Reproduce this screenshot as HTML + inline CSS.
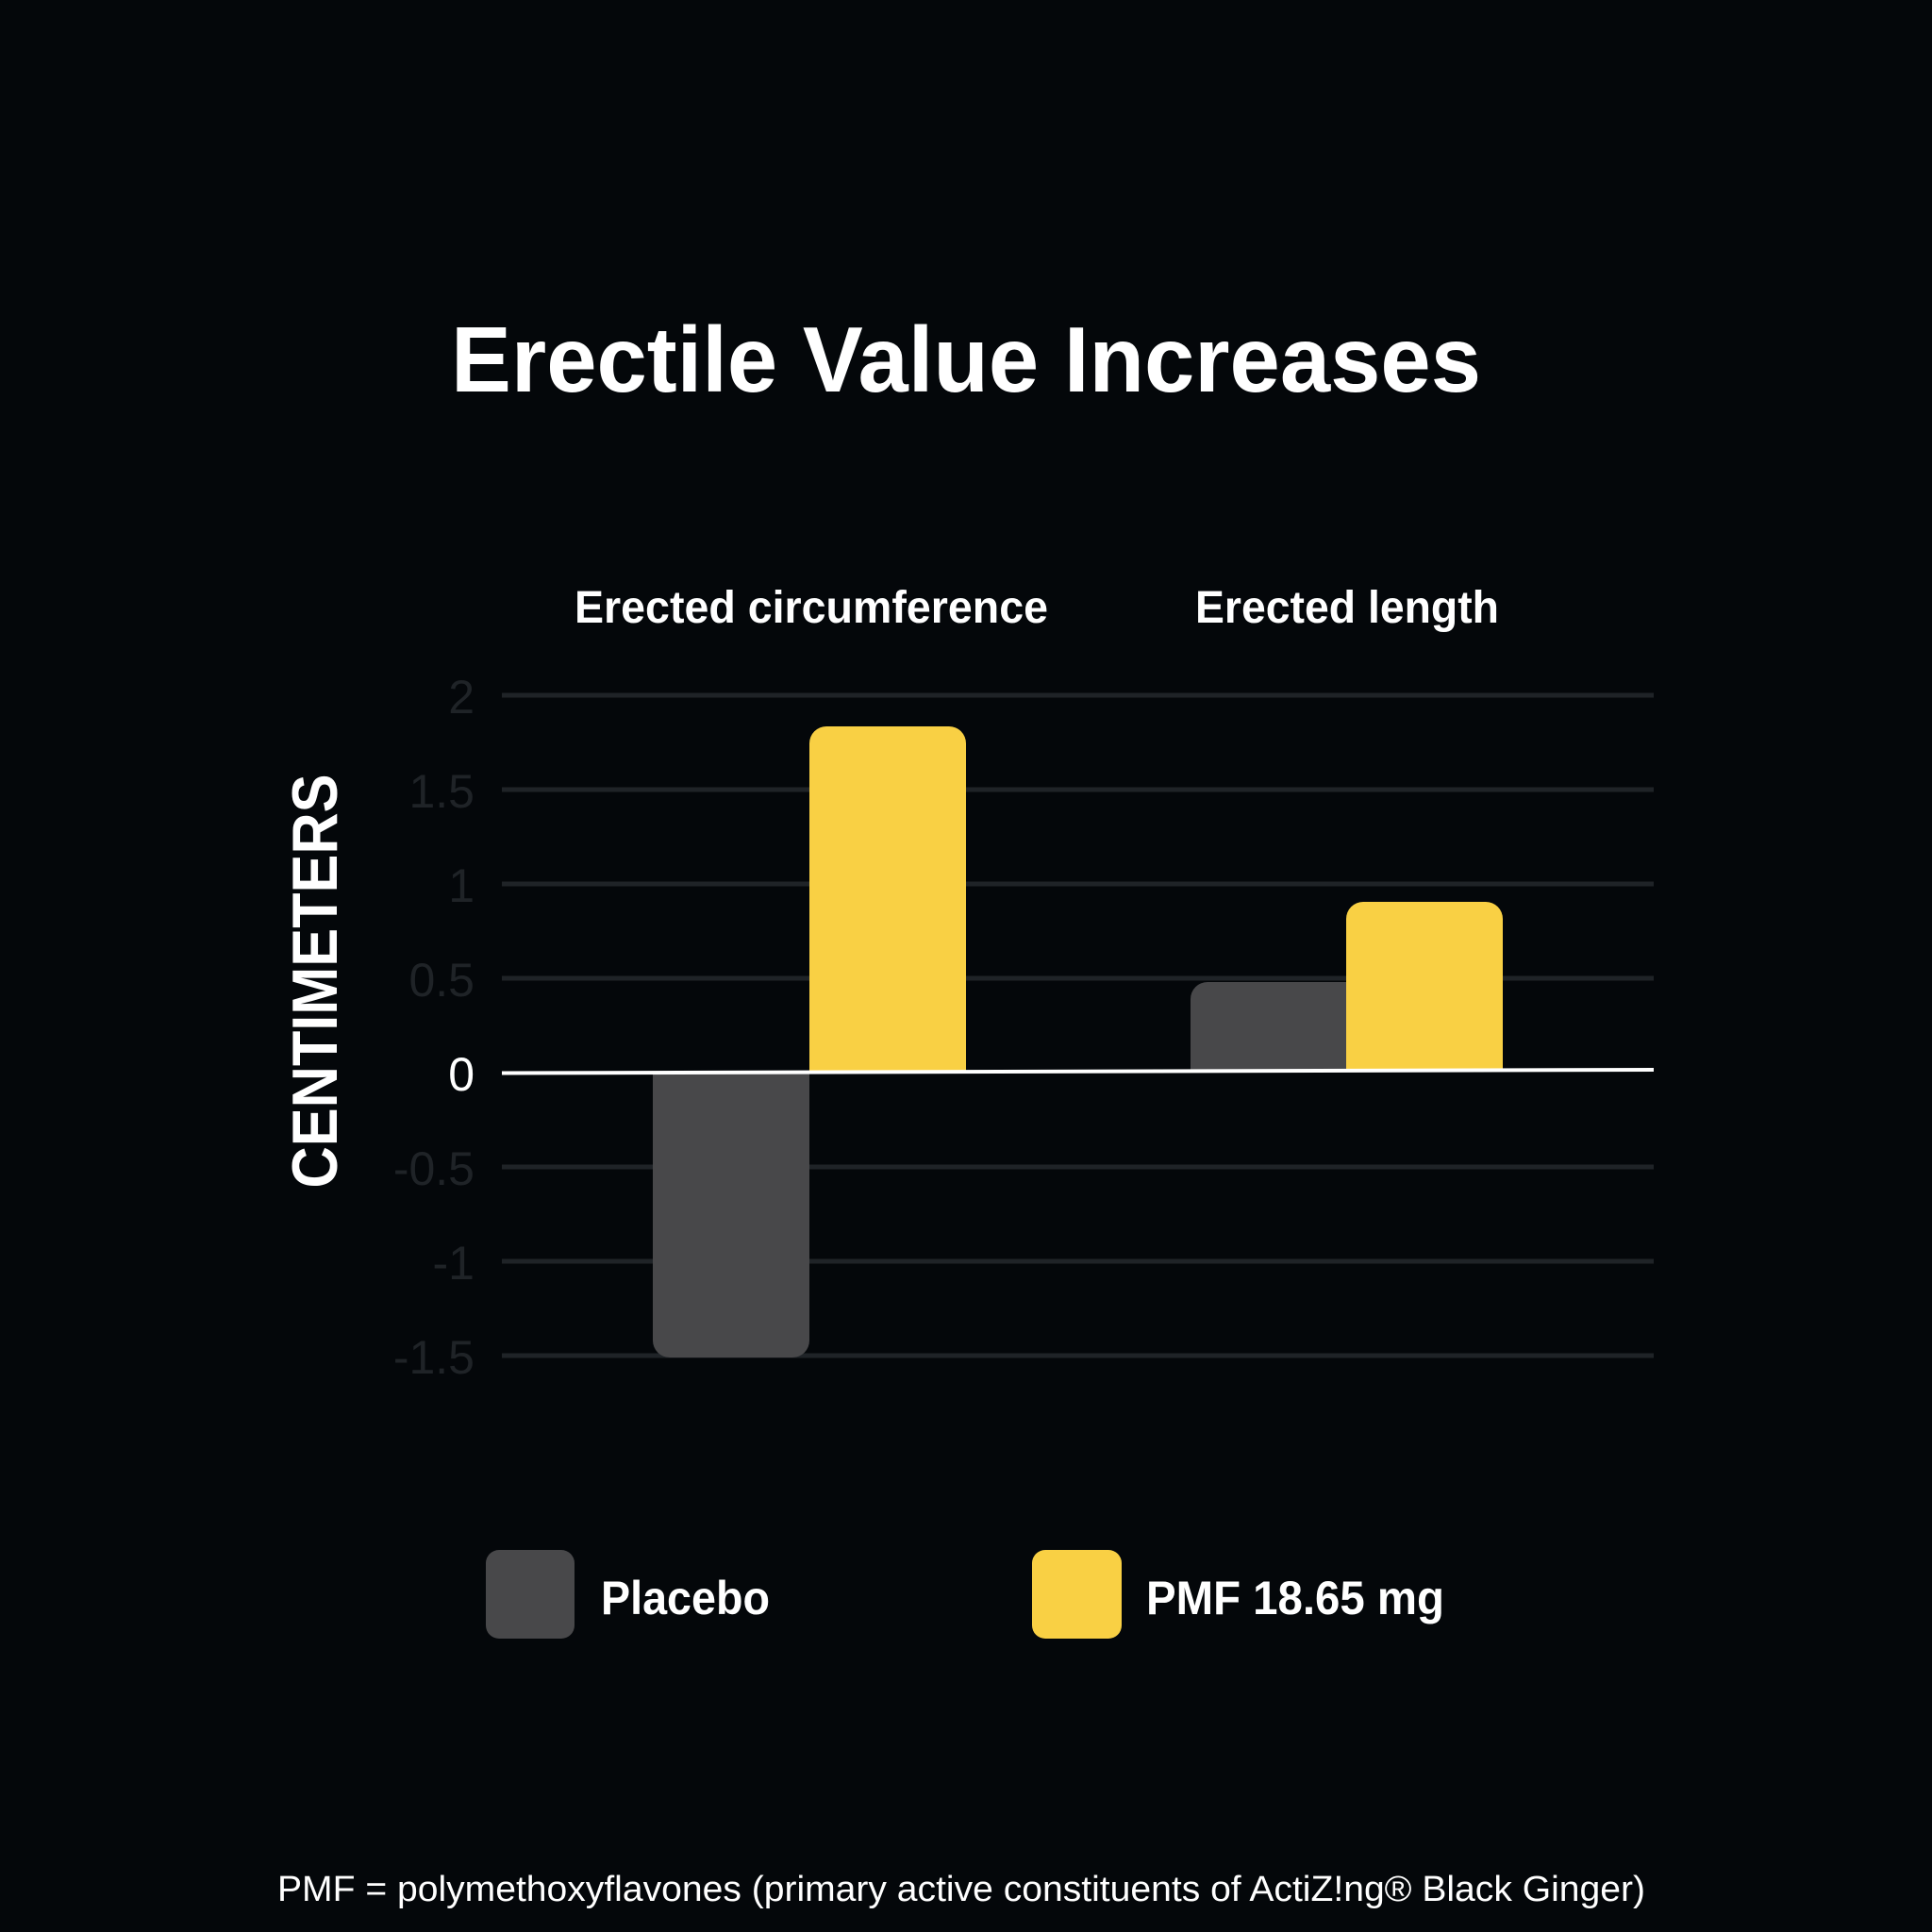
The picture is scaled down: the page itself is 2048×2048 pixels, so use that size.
<!DOCTYPE html>
<html><head><meta charset="utf-8"><style>
html,body{margin:0;padding:0;background:#04070a;}
svg{display:block}
text{font-family:"Liberation Sans",sans-serif;}
</style></head><body>
<svg width="2048" height="2048" viewBox="0 0 2048 2048" xmlns="http://www.w3.org/2000/svg">
<rect width="2048" height="2048" fill="#04070a"/>
<text x="1024" y="415" text-anchor="middle" font-size="98" font-weight="bold" fill="#fff" textLength="1092" lengthAdjust="spacingAndGlyphs">Erectile Value Increases</text>
<text x="609" y="660" font-size="48" font-weight="bold" fill="#fff" textLength="502" lengthAdjust="spacingAndGlyphs">Erected circumference</text>
<text x="1267" y="660" font-size="48" font-weight="bold" fill="#fff" textLength="322" lengthAdjust="spacingAndGlyphs">Erected length</text>
<g stroke="#1f2327" stroke-width="5">
<line x1="532" y1="737" x2="1753" y2="737"/>
<line x1="532" y1="837" x2="1753" y2="837"/>
<line x1="532" y1="937" x2="1753" y2="937"/>
<line x1="532" y1="1037" x2="1753" y2="1037"/>
<line x1="532" y1="1237" x2="1753" y2="1237"/>
<line x1="532" y1="1337" x2="1753" y2="1337"/>
<line x1="532" y1="1437" x2="1753" y2="1437"/>
</g>
<g font-size="50" fill="#1f2327" text-anchor="end">
<text x="503" y="756">2</text>
<text x="503" y="856">1.5</text>
<text x="503" y="956">1</text>
<text x="503" y="1056">0.5</text>
<text x="503" y="1156" fill="#fff">0</text>
<text x="503" y="1256">-0.5</text>
<text x="503" y="1356">-1</text>
<text x="503" y="1456">-1.5</text>
</g>
<text transform="translate(357,1040) rotate(-90)" text-anchor="middle" font-size="68" font-weight="bold" fill="#fff" textLength="439" lengthAdjust="spacingAndGlyphs">CENTIMETERS</text>
<path d="M692 1136 H858 V1421 a18 18 0 0 1 -18 18 H710 a18 18 0 0 1 -18 -18 Z" fill="#48484a"/>
<path d="M858 1136 V788 a18 18 0 0 1 18 -18 H1006 a18 18 0 0 1 18 18 V1136 Z" fill="#f9d044"/>
<path d="M1262 1135 V1059 a18 18 0 0 1 18 -18 H1427 V1135 Z" fill="#48484a"/>
<path d="M1427 1135 V974 a18 18 0 0 1 18 -18 H1575 a18 18 0 0 1 18 18 V1135 Z" fill="#f9d044"/>
<line x1="532" y1="1137.5" x2="1753" y2="1134" stroke="#fff" stroke-width="4"/>
<rect x="515" y="1643" width="94" height="94" rx="14" fill="#48484a"/>
<rect x="1094" y="1643" width="95" height="94" rx="14" fill="#f9d044"/>
<text x="637" y="1711" font-size="50" font-weight="bold" fill="#fff" textLength="179" lengthAdjust="spacingAndGlyphs">Placebo</text>
<text x="1215" y="1711" font-size="50" font-weight="bold" fill="#fff" textLength="316" lengthAdjust="spacingAndGlyphs">PMF 18.65 mg</text>
<text x="294" y="2015" font-size="38" fill="#fff" textLength="1450" lengthAdjust="spacingAndGlyphs">PMF = polymethoxyflavones (primary active constituents of ActiZ!ng® Black Ginger)</text>
</svg>
</body></html>
